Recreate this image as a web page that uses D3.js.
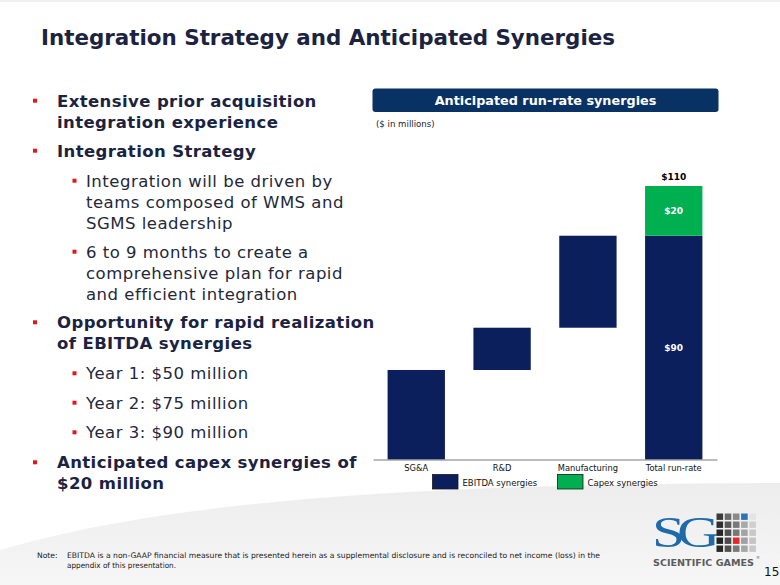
<!DOCTYPE html>
<html>
<head>
<meta charset="utf-8">
<script src="https://cdn.jsdelivr.net/npm/d3@7"></script>
<style>
  html, body { margin: 0; padding: 0; background: #ffffff; }
  svg { display: block; }
</style>
</head>
<body>
<div id="chart"></div>
<script>
// ---------- data ----------
const categories = ["SG&A", "R&D", "Manufacturing", "Total run-rate"];
const ebitdaSteps = [36, 17, 37];        // waterfall increments (EBITDA)
const totalEbitda = 90;                  // total run-rate EBITDA synergies
const capexSynergies = 20;               // capex synergies
const totalLabel = "$110";
const ebitdaLabel = "$90";
const capexLabel = "$20";
const legendLabels = ["EBITDA synergies", "Capex synergies"];
const yDomain = [0, 110];

const titleText = "Integration Strategy and Anticipated Synergies";
const chartHeader = "Anticipated run-rate synergies";
const unitsText = "($ in millions)";
const bulletTexts = [
  "Extensive prior acquisition", "integration experience",
  "Integration Strategy",
  "Integration will be driven by", "teams composed of WMS and", "SGMS leadership",
  "6 to 9 months to create a", "comprehensive plan for rapid", "and efficient integration",
  "Opportunity for rapid realization", "of EBITDA synergies",
  "Year 1: $50 million", "Year 2: $75 million", "Year 3: $90 million",
  "Anticipated capex synergies of", "$20 million"
];
const bulletLevels = [1,1,1,2,2,2,2,2,2,1,1,2,2,2,1,1];
const bulletStarts = [true,false,true,true,false,false,true,false,false,true,false,true,true,true,true,false];
const bulletLineCenters = [100.7,121.7,150.7,180.7,201.7,222.7,251.7,272.7,293.7,322.3,343.3,373.3,402.7,432.3,462.3,482.7];
const noteLines = [
  "EBITDA is a non-GAAP financial measure that is presented herein as a supplemental disclosure and is reconciled to net income (loss) in the",
  "appendix of this presentation."
];
const pageNumber = "15";

// ---------- colours ----------
const NAVY = "#0b1f5c";
const GREEN = "#00b050";
const HEADER = "#083263";
const TEXT_DARK = "#1b2340";
const RED = "#e3161d";

const W = 780, H = 585;
const svg = d3.select("#chart").append("svg").attr("width", W).attr("height", H)
  .style("font-family", "'DejaVu Sans', Verdana, sans-serif");

// background swoosh
const defs = svg.append("defs");
const grad = defs.append("linearGradient").attr("id", "sw").attr("x1", 0).attr("y1", 0).attr("x2", 0).attr("y2", 1);
grad.append("stop").attr("offset", 0).attr("stop-color", "#ededed");
grad.append("stop").attr("offset", 1).attr("stop-color", "#f6f6f6");
svg.append("rect").attr("width", W).attr("height", H).attr("fill", "#ffffff");
svg.append("path")
  .attr("d", "M0,550 C170,500 420,484 780,483 L780,585 L0,585 Z")
  .attr("fill", "url(#sw)");
svg.append("rect").attr("width", W).attr("height", 2).attr("fill", "#eef0f5");

// title
svg.append("text").attr("x", 41).attr("y", 44.5)
  .attr("font-size", 21).attr("font-weight", "bold").attr("fill", TEXT_DARK)
  .attr("textLength", 574).attr("lengthAdjust", "spacingAndGlyphs")
  .text(titleText);

// bullets
const bl = svg.append("g");
bulletTexts.forEach((t, i) => {
  const lvl = bulletLevels[i];
  const cy = bulletLineCenters[i];
  const tx = lvl === 1 ? 57 : 86;
  bl.append("text").attr("x", tx).attr("y", cy + 6)
    .attr("font-size", 16.5)
    .attr("letter-spacing", lvl === 1 ? 0.4 : 0.5)
    .attr("font-weight", lvl === 1 ? "bold" : "normal")
    .attr("fill", lvl === 1 ? TEXT_DARK : "#23283a")
    .text(t);
  if (bulletStarts[i]) {
    const mx = lvl === 1 ? 33 : 72.5;
    bl.append("rect").attr("x", mx).attr("y", cy - 2).attr("width", 4).attr("height", 4).attr("fill", RED);
  }
});

// chart header box
svg.append("rect").attr("x", 372.5).attr("y", 88.5).attr("width", 346).attr("height", 23.5)
  .attr("rx", 3).attr("fill", HEADER);
svg.append("text").attr("x", 545.5).attr("y", 105)
  .attr("text-anchor", "middle").attr("font-size", 12.8).attr("font-weight", "bold").attr("fill", "#ffffff")
  .text(chartHeader);
svg.append("text").attr("x", 376).attr("y", 127).attr("font-size", 8.6).attr("fill", "#222")
  .text(unitsText);

// ---------- chart ----------
const x = d3.scaleBand().domain(categories).range([373, 717]).paddingInner(0.332).paddingOuter(0.17);
const y = d3.scaleLinear().domain(yDomain).range([459.5, 186]);

// waterfall segments
const starts = [];
let acc = 0;
ebitdaSteps.forEach(v => { starts.push(acc); acc += v; });
const segs = categories.slice(0, 3).map((c, i) => ({ cat: c, y0: starts[i], y1: starts[i] + ebitdaSteps[i], color: NAVY }));
segs.push({ cat: categories[3], y0: 0, y1: totalEbitda, color: NAVY });
segs.push({ cat: categories[3], y0: totalEbitda, y1: totalEbitda + capexSynergies, color: GREEN });

svg.append("g").selectAll("rect").data(segs).join("rect")
  .attr("x", d => x(d.cat)).attr("width", x.bandwidth())
  .attr("y", d => y(d.y1)).attr("height", d => y(d.y0) - y(d.y1))
  .attr("fill", d => d.color);

// axis
const xAxis = svg.append("g").attr("transform", `translate(0,${y(0)})`)
  .call(d3.axisBottom(x).tickSize(0).tickPadding(6));
xAxis.select(".domain").attr("stroke", "#7a7a7a").attr("stroke-width", 1.2);
xAxis.selectAll("text").attr("font-size", 8.3).attr("fill", "#111")
  .style("font-family", "'DejaVu Sans', Verdana, sans-serif");

// value labels
const tc = x(categories[3]) + x.bandwidth() / 2;
svg.append("text").attr("x", tc).attr("y", y(totalEbitda + capexSynergies) - 6)
  .attr("text-anchor", "middle").attr("font-size", 9).attr("font-weight", "bold").attr("fill", "#000")
  .text(totalLabel);
svg.append("text").attr("x", tc).attr("y", y(totalEbitda + capexSynergies / 2) + 3)
  .attr("text-anchor", "middle").attr("font-size", 9).attr("font-weight", "bold").attr("fill", "#fff")
  .text(capexLabel);
svg.append("text").attr("x", tc).attr("y", y(totalEbitda / 2) + 3)
  .attr("text-anchor", "middle").attr("font-size", 9).attr("font-weight", "bold").attr("fill", "#fff")
  .text(ebitdaLabel);

// legend
const legColors = [NAVY, GREEN];
const legX = [432.5, 557.5];
legendLabels.forEach((l, i) => {
  svg.append("rect").attr("x", legX[i]).attr("y", 474.5).attr("width", 25.5).attr("height", 14.5)
    .attr("fill", legColors[i]).attr("stroke", "#1a1a1a").attr("stroke-width", 0.8);
  svg.append("text").attr("x", legX[i] + 30).attr("y", 485.5).attr("font-size", 8.5).attr("fill", "#111").text(l);
});

// note
svg.append("text").attr("x", 37).attr("y", 557.5).attr("font-size", 7.6).attr("fill", "#222").text("Note:");
svg.append("text").attr("x", 67).attr("y", 557.5).attr("font-size", 7.6).attr("fill", "#222")
  .attr("textLength", 533).attr("lengthAdjust", "spacingAndGlyphs").text(noteLines[0]);
svg.append("text").attr("x", 67).attr("y", 568).attr("font-size", 7.6).attr("fill", "#222")
  .attr("textLength", 109).attr("lengthAdjust", "spacingAndGlyphs").text(noteLines[1]);

// logo
const logo = svg.append("g");
logo.append("text").attr("x", 652).attr("y", 547).attr("font-size", 44)
  .attr("font-family", "'Liberation Serif', serif").attr("fill", "#1f6aa8").attr("letter-spacing", -6)
  .attr("textLength", 60).attr("lengthAdjust", "spacingAndGlyphs").text("SG");
const gridShades = [
  ["#3a3a3a","#6a6a6a","#8a8a8a","#2d74b8","#e4e4e4"],
  ["#2e2e2e","#5a5a5a","#7a7a7a","#a9a9a9","#cfcfcf"],
  ["#262626","#4f4f4f","#777","#a3a3a3","#c8c8c8"],
  ["#222","#4a4a4a","#e8262a","#a0a0a0","#c4c4c4"],
  ["#262626","#505050","#7a7a7a","#a6a6a6","#c8c8c8"]
];
gridShades.forEach((row, r) => row.forEach((c, k) => {
  logo.append("rect").attr("x", 716.5 + k * 8.2).attr("y", 513.5 + r * 8).attr("width", 6.6).attr("height", 6.4).attr("fill", c);
}));
logo.append("text").attr("x", 653).attr("y", 566).attr("font-size", 9.5).attr("font-weight", "bold")
  .attr("fill", "#5c5c5c").attr("textLength", 101).attr("lengthAdjust", "spacingAndGlyphs").text("SCIENTIFIC GAMES");
logo.append("text").attr("x", 756).attr("y", 559).attr("font-size", 4).attr("fill", "#5c5c5c").text("®");
svg.append("text").attr("x", 764).attr("y", 576).attr("font-size", 12).attr("fill", "#111").text(pageNumber);
</script>
</body>
</html>
